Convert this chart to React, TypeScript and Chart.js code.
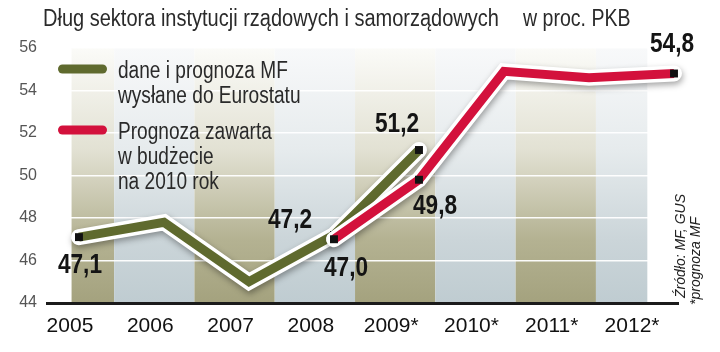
import React, { useEffect, useRef } from 'react';
import { Chart, registerables } from 'chart.js';

Chart.register(...registerables);

// ---- data ----
const years = ['2005', '2006', '2007', '2008', '2009*', '2010*', '2011*', '2012*'];
const mfValues: (number | null)[] = [47.1, 47.8, 45.0, 47.2, 51.2, null, null, null];
const budgetValues: (number | null)[] = [null, null, null, 47.0, 49.8, 54.9, 54.6, 54.8];
const yTicks = [44, 46, 48, 50, 52, 54, 56];
const mfLabelled = [0, 3, 4];
const budgetLabelled = [3, 4, 7];
const mfLegend = ['dane i prognoza MF', 'wysłane do Eurostatu'];
const budgetLegend = ['Prognoza zawarta', 'w budżecie', 'na 2010 rok'];
const titleText = 'Dług sektora instytucji rządowych i samorządowych';
const unitText = 'w proc. PKB';
const sourceText = 'Źródło: MF, GUS';
const noteText = '*prognoza MF';

// ---- styles ----
const OLIVE = '#5f6a2e';
const RED = '#d3113c';
const SANS = '"Liberation Sans", Arial, sans-serif';

const fmt = (v: number) => v.toFixed(1).replace('.', ',');

// draw text horizontally condensed (emulates a narrow face)
function condensed(ctx: CanvasRenderingContext2D, text: string, x: number, y: number, sx: number) {
  ctx.save();
  ctx.translate(x, y);
  ctx.scale(sx, 1);
  ctx.fillText(text, 0, 0);
  ctx.restore();
}

const bandPlugin = {
  id: 'bands',
  beforeDraw(chart: any) {
    const { ctx, chartArea: ca } = chart;
    const xs = chart.scales.x;
    const left = xs.getPixelForValue(0.02);
    const right = xs.getPixelForValue(years.length - 1 + 0.19);
    ctx.save();
    years.forEach((_, i) => {
      const x0 = Math.max(left, xs.getPixelForValue(i - 0.5 + 0.05));
      const x1 = Math.min(right, xs.getPixelForValue(i + 0.5 + 0.05));
      const g = ctx.createLinearGradient(0, ca.bottom, 0, ca.top);
      if (i % 2 === 0) {
        g.addColorStop(0, '#a4a27e');
        g.addColorStop(0.25, '#b4b292');
        g.addColorStop(0.6, '#e2e1d3');
        g.addColorStop(1, '#fbfbf8');
      } else {
        g.addColorStop(0, '#bfccd1');
        g.addColorStop(0.25, '#cbd5d9');
        g.addColorStop(0.6, '#e6ebed');
        g.addColorStop(1, '#f8f9fa');
      }
      ctx.fillStyle = g;
      ctx.fillRect(x0, ca.top, x1 - x0, ca.bottom - ca.top);
    });
    ctx.restore();
  },
};

const shadowPlugin = {
  id: 'lineShadow',
  beforeDatasetDraw(chart: any, args: any) {
    const ds = chart.data.datasets[args.index];
    if (ds.halo) {
      const ctx = chart.ctx;
      ctx.save();
      ctx.shadowColor = 'rgba(0,0,0,0.35)';
      ctx.shadowBlur = 6;
      ctx.shadowOffsetX = 1;
      ctx.shadowOffsetY = 3;
    }
  },
  afterDatasetDraw(chart: any, args: any) {
    const ds = chart.data.datasets[args.index];
    if (ds.halo) chart.ctx.restore();
  },
};

const labelOffsets: Record<string, [number, number]> = {
  'mf-0': [1, 28],
  'mf-3': [-44, -14],
  'mf-4': [-22, -25],
  'b-3': [12, 29],
  'b-4': [16, 27],
  'b-7': [-2, -29],
};

const textPlugin = {
  id: 'texts',
  afterDatasetsDraw(chart: any) {
    const ctx = chart.ctx;
    ctx.save();
    ctx.font = `bold 27px ${SANS}`;
    ctx.fillStyle = '#141414';
    ctx.textAlign = 'center';
    ctx.textBaseline = 'middle';
    const put = (dsIndex: number, key: string, idx: number[], values: (number | null)[]) => {
      const meta = chart.getDatasetMeta(dsIndex);
      idx.forEach((i) => {
        const el = meta.data[i];
        const v = values[i];
        if (!el || v == null) return;
        const [dx, dy] = labelOffsets[`${key}-${i}`] || [0, -20];
        condensed(ctx, fmt(v), el.x + dx, el.y + dy, 0.84);
      });
    };
    put(1, 'mf', mfLabelled, mfValues);
    put(3, 'b', budgetLabelled, budgetValues);
    ctx.restore();
  },
  afterDraw(chart: any) {
    const ctx = chart.ctx;
    ctx.save();
    // title
    ctx.fillStyle = '#2a2a2a';
    ctx.font = `23px ${SANS}`;
    ctx.textAlign = 'left';
    ctx.textBaseline = 'alphabetic';
    condensed(ctx, titleText, 43, 26, 0.87);
    condensed(ctx, unitText, 523, 26, 0.85);
    // legend
    const legend = (color: string, y: number, lines: string[]) => {
      ctx.strokeStyle = color;
      ctx.lineWidth = 9;
      ctx.lineCap = 'round';
      ctx.beginPath();
      ctx.moveTo(62.5, y);
      ctx.lineTo(102.5, y);
      ctx.stroke();
      ctx.fillStyle = '#2a2a2a';
      ctx.font = `23px ${SANS}`;
      ctx.textBaseline = 'middle';
      lines.forEach((t, k) => condensed(ctx, t, 118, y + 3 + k * 25, 0.83));
    };
    legend(OLIVE, 69, mfLegend);
    legend(RED, 130, budgetLegend);
    // source
    ctx.font = `italic 14px ${SANS}`;
    ctx.fillStyle = '#222';
    ctx.textBaseline = 'alphabetic';
    ctx.save();
    ctx.translate(685, 298);
    ctx.rotate(-Math.PI / 2);
    ctx.fillText(sourceText, 0, 0);
    ctx.restore();
    ctx.save();
    ctx.translate(700, 305);
    ctx.rotate(-Math.PI / 2);
    ctx.fillText(noteText, 0, 0);
    ctx.restore();
    ctx.restore();
  },
};

export default function App() {
  const ref = useRef<HTMLCanvasElement | null>(null);
  useEffect(() => {
    if (!ref.current) return;
    const mfPoints = mfValues.map((y, i) => ({ x: i, y }));
    const bPoints = budgetValues.map((y, i) => ({ x: i, y }));
    const common = {
      xAxisID: 'xp',
      clip: false,
      tension: 0,
      borderJoinStyle: 'miter',
      fill: false,
    };
    const chart = new Chart(ref.current, {
      type: 'line',
      data: {
        datasets: [
          { ...common, label: 'halo1', data: mfPoints, borderColor: '#fff', borderWidth: 16, pointRadius: 0, borderCapStyle: 'round', order: 4, halo: true } as any,
          {
            ...common,
            label: mfLegend.join(' '),
            data: mfPoints,
            borderColor: OLIVE,
            borderWidth: 9,
            borderCapStyle: 'butt',
            pointStyle: 'rect',
            pointRadius: mfValues.map((_, i) => (mfLabelled.includes(i) ? 5.6 : 0)),
            pointBackgroundColor: '#111',
            pointBorderWidth: 0,
            order: 3,
          } as any,
          { ...common, label: 'halo2', data: bPoints, borderColor: '#fff', borderWidth: 16, pointRadius: 0, borderCapStyle: 'round', order: 2, halo: true } as any,
          {
            ...common,
            label: budgetLegend.join(' '),
            data: bPoints,
            borderColor: RED,
            borderWidth: 9,
            borderCapStyle: 'butt',
            pointStyle: 'rect',
            pointRadius: budgetValues.map((_, i) => (budgetLabelled.includes(i) ? 5.6 : 0)),
            pointBackgroundColor: '#111',
            pointBorderWidth: 0,
            order: 1,
          } as any,
        ],
      },
      options: {
        responsive: false,
        animation: false,
        events: [],
        layout: { padding: { top: 48, right: 42, left: 0, bottom: 0 } },
        plugins: { legend: { display: false }, tooltip: { enabled: false }, title: { display: false } },
        scales: {
          x: {
            type: 'linear',
            position: 'bottom',
            min: -0.286,
            max: 7.572,
            afterBuildTicks: (s: any) => {
              s.ticks = years.map((_, i) => ({ value: i }));
            },
            afterFit: (s: any) => {
              s.height = 49;
            },
            grid: { display: false, drawTicks: false },
            border: { display: true, color: '#1b1b1b', width: 3 },
            ticks: {
              callback: (v: any) => years[v] ?? '',
              font: { family: SANS, size: 21 },
              color: '#111',
              padding: 11,
              maxRotation: 0,
              autoSkip: false,
            },
          },
          xp: { type: 'linear', display: false, min: -0.376, max: 7.047 },
          y: {
            min: 44,
            max: 56,
            afterBuildTicks: (s: any) => {
              s.ticks = yTicks.map((v) => ({ value: v }));
            },
            afterFit: (s: any) => {
              s.width = 47;
            },
            grid: {
              color: (c: any) => (c.tick && c.tick.value === 44 ? 'rgba(0,0,0,0)' : 'rgba(255,255,255,0.95)'),
              lineWidth: 1.5,
              drawTicks: false,
            },
            border: { display: false },
            ticks: { font: { family: SANS, size: 16 }, color: '#555', padding: 10 },
          },
        },
      } as any,
      plugins: [bandPlugin, shadowPlugin, textPlugin],
    });
    return () => chart.destroy();
  }, []);
  return (
    <div style={{ position: 'fixed', left: 0, top: 0, width: 720, height: 352, background: '#fff' }}>
      <canvas ref={ref} width={720} height={352} style={{ width: 720, height: 352, display: 'block' }} />
    </div>
  );
}
